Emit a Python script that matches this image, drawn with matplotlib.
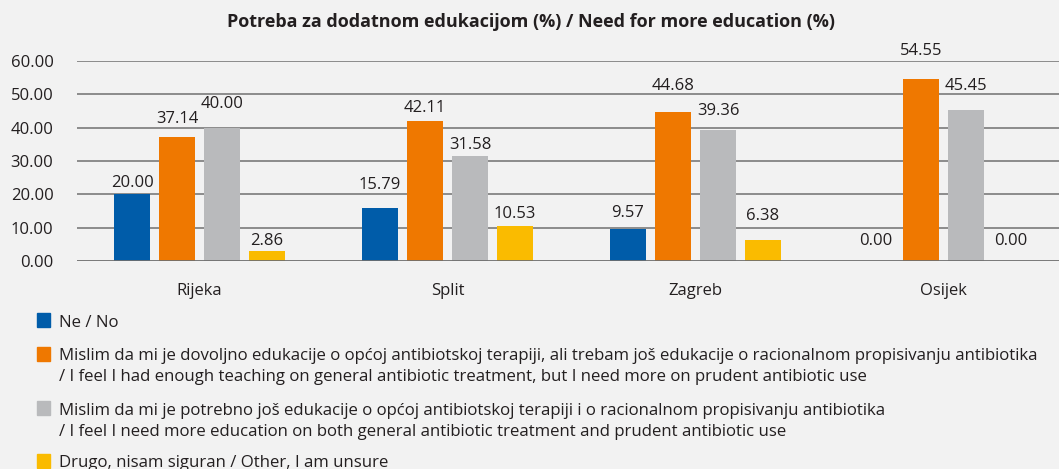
import matplotlib
matplotlib.use("Agg")
import matplotlib.pyplot as plt
from matplotlib.patches import Rectangle
import numpy as np

plt.rcParams['font.family'] = ['Open Sans', 'DejaVu Sans']

cities = ["Rijeka", "Split", "Zagreb", "Osijek"]
no_vals = [20.00, 15.79, 9.57, 0.00]
more_prudent = [37.14, 42.11, 44.68, 54.55]
more_both = [40.00, 31.58, 39.36, 45.45]
other_vals = [2.86, 10.53, 6.38, 0.00]
yticks = [0, 10, 20, 30, 40, 50, 60]

series_labels = [
    "Ne / No",
    "Mislim da mi je dovoljno edukacije o općoj antibiotskoj terapiji, ali trebam još edukacije o racionalnom propisivanju antibiotika\n/ I feel I had enough teaching on general antibiotic treatment, but I need more on prudent antibiotic use",
    "Mislim da mi je potrebno još edukacije o općoj antibiotskoj terapiji i o racionalnom propisivanju antibiotika\n/ I feel I need more education on both general antibiotic treatment and prudent antibiotic use",
    "Drugo, nisam siguran / Other, I am unsure",
]
title = "Potreba za dodatnom edukacijom (%) / Need for more education (%)"

colors = ["#005ca9", "#ef7800", "#b9babc", "#fabb00"]
bg = "#f2f2f2"
txt = "#231f20"
# label offsets above bar top (pixels), per series x city
label_gaps = [[7, 19, 12, 16], [14, 9, 22, 24], [20, 7, 15, 20], [6, 8, 20, 16]]

W, H = 1059, 469
fig = plt.figure(figsize=(W / 100, H / 100), dpi=100, facecolor=bg)
ax = fig.add_axes([77 / W, (H - 261) / H, 990.5 / W, 200 / H])
ax.set_facecolor(bg)

series = [no_vals, more_prudent, more_both, other_vals]
x = np.arange(len(cities))
step = 45 / 248
bw = 36 / 248
for i, vals in enumerate(series):
    xs = x + (i - 1.5) * step
    ax.bar(xs, vals, width=bw, color=colors[i], zorder=3)
    for j, (xx, v) in enumerate(zip(xs, vals)):
        ax.annotate(f"{v:.2f}", (xx, v), xytext=(0, label_gaps[i][j]),
                    textcoords="offset pixels", ha="center", va="baseline",
                    fontsize=12, color=txt, zorder=4)

ax.set_xlim(-0.494, 3.5)
ax.set_ylim(0, 60)
ax.set_yticks(yticks)
ax.set_yticklabels([f"{t:.2f}" for t in yticks])
ax.set_xticks(x)
ax.set_xticklabels(cities)
for t in yticks[1:]:
    ax.axhline(t, color="#8c8c8c", lw=1.4, zorder=1)
ax.axhline(0, color="#6e6e6e", lw=2.0, zorder=5)
for s in ax.spines.values():
    s.set_visible(False)
ax.tick_params(axis="y", length=0, pad=17, labelsize=12, labelcolor=txt)
ax.tick_params(axis="x", length=0, pad=16, labelsize=12, labelcolor=txt)

fig.text(531 / W, 1 - 22 / H, title, ha="center", va="center",
         fontsize=13, fontweight="bold", color=txt)

# legend
sq_tops = [313, 347, 401, 454]
base1 = [327, 360, 415, 467]
for i in range(4):
    fig.patches.append(Rectangle((37 / W, 1 - (sq_tops[i] + 14) / H), 13 / W, 14 / H,
                                 transform=fig.transFigure, color=colors[i]))
    for k, line in enumerate(series_labels[i].split("\n")):
        fig.text(59 / W, 1 - (base1[i] + 21 * k) / H, line, ha="left", va="baseline",
                 fontsize=12.1, color=txt)

fig.savefig("out.png", dpi=100, facecolor=bg)
